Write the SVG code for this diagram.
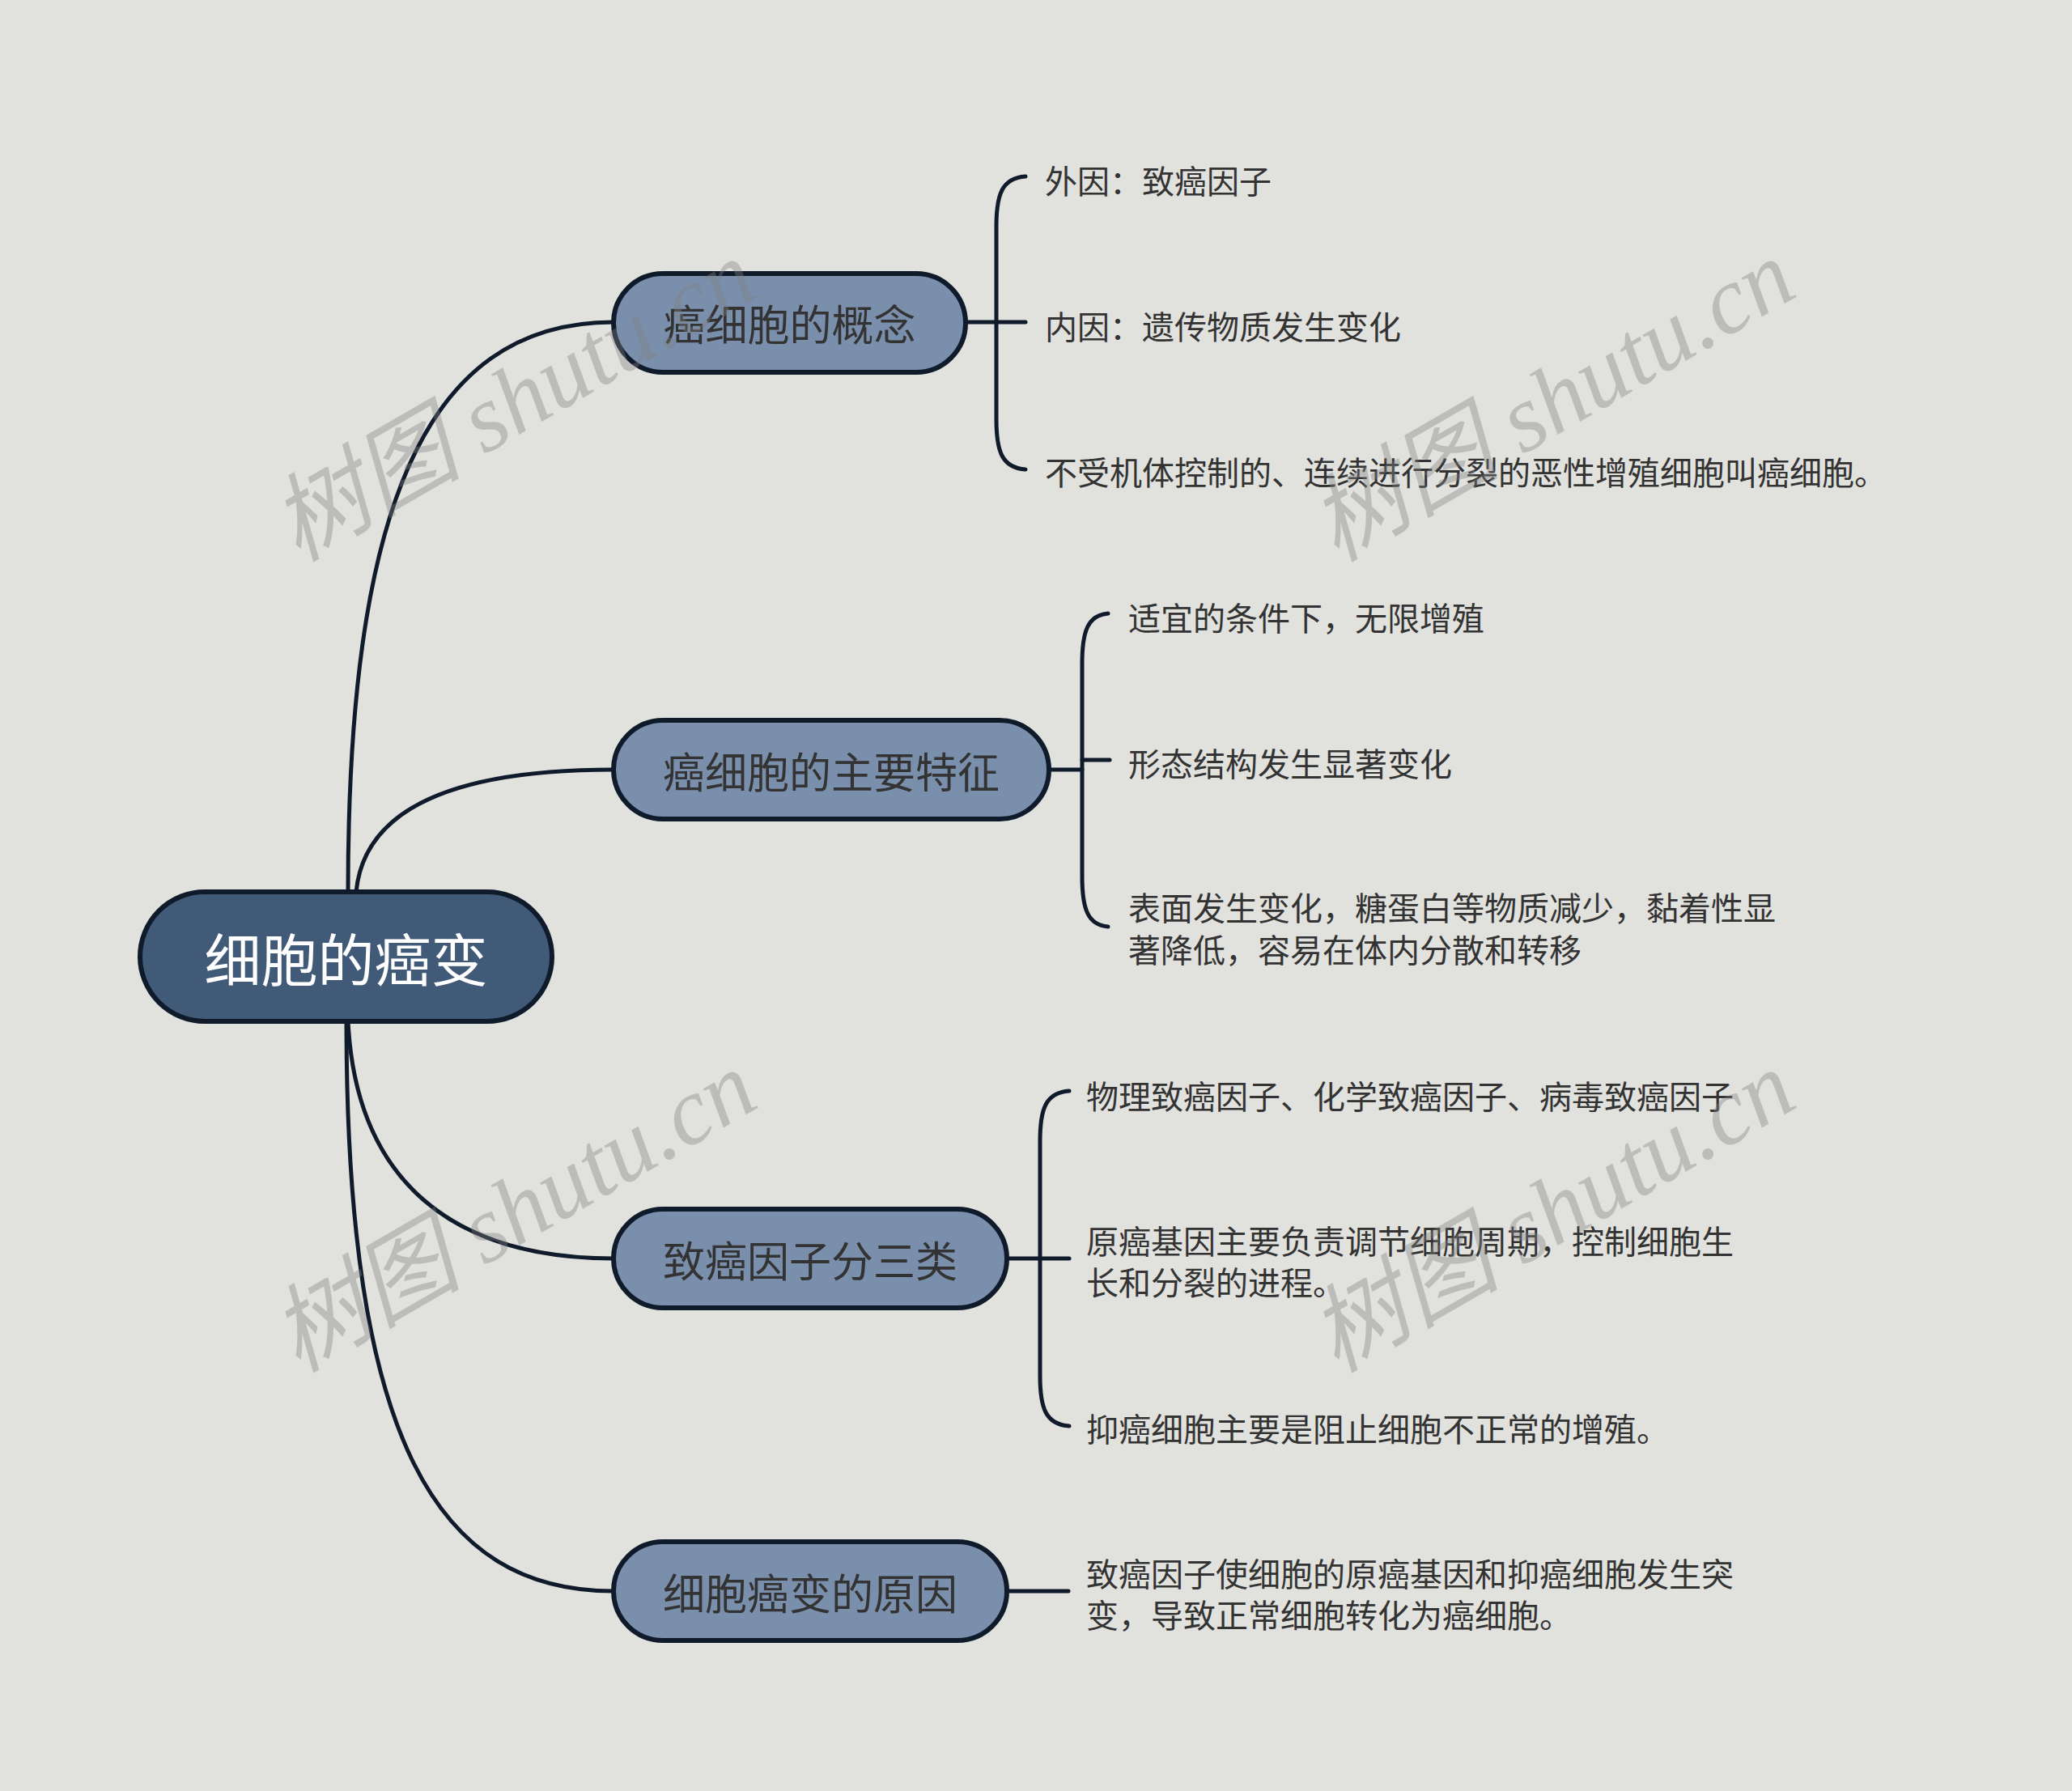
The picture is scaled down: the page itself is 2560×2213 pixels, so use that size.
<svg xmlns="http://www.w3.org/2000/svg" width="2560" height="2213" viewBox="0 0 2560 2213">
<style>
.bg{fill:#e1e1dd}
.conn{fill:none;stroke:#0f1b2b;stroke-width:5;stroke-linecap:round}
.root rect{fill:#415a78;stroke:#0f1b2b;stroke-width:6}
.branch rect{fill:#7a8fac;stroke:#0f1b2b;stroke-width:6}
.rt{font-family:"Noto Sans CJK SC","Noto Sans",sans-serif;font-size:70px;fill:#ffffff;text-anchor:middle;dominant-baseline:central}
.bt{font-family:"Noto Sans CJK SC","Noto Sans",sans-serif;font-size:52px;fill:#333333;text-anchor:middle;dominant-baseline:central}
.lt{font-family:"Noto Sans CJK SC","Noto Sans",sans-serif;font-size:40px;fill:#333333;dominant-baseline:central}
.wm{font-family:"Liberation Serif","Noto Sans CJK SC",serif;font-style:italic;font-size:118px;fill:#808080;fill-opacity:0.38}
</style>
<rect class="bg" x="0" y="0" width="2560" height="2213"/>
<g id="connectors">
  <path class="conn" d="M430,1102 C430,640 520,398 758,398"/>
  <path class="conn" d="M440,1102 C450,1000 560,951 758,951"/>
  <path class="conn" d="M430,1262 C440,1460 560,1555 758,1555"/>
  <path class="conn" d="M428,1262 C428,1780 540,1966 758,1966"/>
  <path class="conn" d="M1193,398 H1267"/>
  <path class="conn" d="M1267,218 C1238,220 1231,240 1231,280 L1231,518 C1231,558 1238,578 1267,580"/>
  <path class="conn" d="M1296,951 H1337"/>
  <path class="conn" d="M1337,939 H1371"/>
  <path class="conn" d="M1369,758 C1344,760 1337,780 1337,820 L1337,1083 C1337,1123 1344,1143 1369,1145"/>
  <path class="conn" d="M1244,1555 H1321"/>
  <path class="conn" d="M1321,1348 C1292,1350 1285,1370 1285,1410 L1285,1700 C1285,1740 1292,1760 1321,1762"/>
  <path class="conn" d="M1244,1966 H1320"/>
</g>
<g id="root" class="root">
  <rect x="173" y="1102" width="509" height="160" rx="80" ry="80"/>
  <text class="rt" x="427.5" y="1182">细胞的癌变</text>
</g>
<g id="n1" class="branch">
  <rect x="758" y="338" width="435" height="122" rx="61" ry="61"/>
  <text class="bt" x="975.5" y="398">癌细胞的概念</text>
</g>
<g id="n2" class="branch">
  <rect x="758" y="890" width="538" height="122" rx="61" ry="61"/>
  <text class="bt" x="1027" y="951">癌细胞的主要特征</text>
</g>
<g id="n3" class="branch">
  <rect x="758" y="1494" width="486" height="122" rx="61" ry="61"/>
  <text class="bt" x="1001" y="1555">致癌因子分三类</text>
</g>
<g id="n4" class="branch">
  <rect x="758" y="1905" width="486" height="122" rx="61" ry="61"/>
  <text class="bt" x="1001" y="1966">细胞癌变的原因</text>
</g>
<g id="l1a"><text class="lt" x="1291" y="222">外因：致癌因子</text></g>
<g id="l1b"><text class="lt" x="1291" y="402">内因：遗传物质发生变化</text></g>
<g id="l1c"><text class="lt" x="1291" y="582">不受机体控制的、连续进行分裂的恶性增殖细胞叫癌细胞。</text></g>
<g id="l2a"><text class="lt" x="1394" y="762">适宜的条件下，无限增殖</text></g>
<g id="l2b"><text class="lt" x="1394" y="942">形态结构发生显著变化</text></g>
<g id="l2c"><text class="lt" x="1394" y="1120">表面发生变化，糖蛋白等物质减少，黏着性显</text><text class="lt" x="1394" y="1172">著降低，容易在体内分散和转移</text></g>
<g id="l3a"><text class="lt" x="1342" y="1353">物理致癌因子、化学致癌因子、病毒致癌因子</text></g>
<g id="l3b"><text class="lt" x="1342" y="1532">原癌基因主要负责调节细胞周期，控制细胞生</text><text class="lt" x="1342" y="1583">长和分裂的进程。</text></g>
<g id="l3c"><text class="lt" x="1342" y="1764">抑癌细胞主要是阻止细胞不正常的增殖。</text></g>
<g id="l4a"><text class="lt" x="1342" y="1943">致癌因子使细胞的原癌基因和抑癌细胞发生突</text><text class="lt" x="1342" y="1994">变，导致正常细胞转化为癌细胞。</text></g>
<g id="watermarks">
  <text class="wm" transform="translate(368,695) rotate(-30)">树图 shutu.cn</text>
  <text class="wm" transform="translate(1651,695) rotate(-30)">树图 shutu.cn</text>
  <text class="wm" transform="translate(368,1697) rotate(-30)">树图 shutu.cn</text>
  <text class="wm" transform="translate(1651,1697) rotate(-30)">树图 shutu.cn</text>
</g>
</svg>
